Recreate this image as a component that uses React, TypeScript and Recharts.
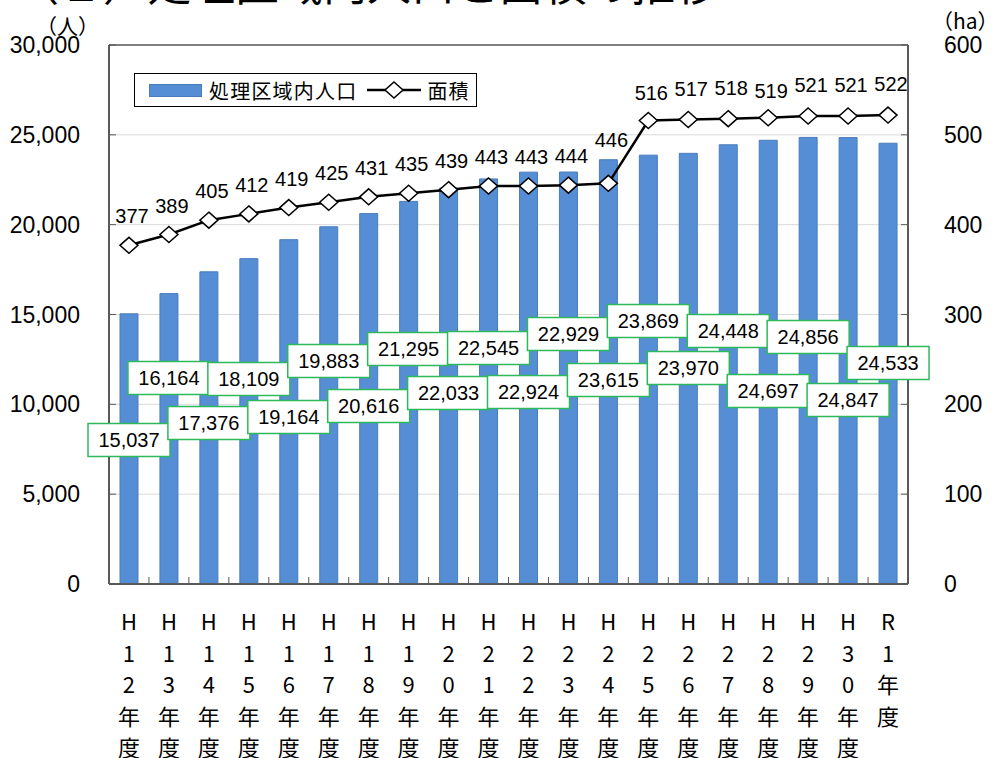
import React from 'react';
import {
  ComposedChart,
  Bar,
  Line,
  XAxis,
  YAxis,
  CartesianGrid,
  LabelList,
  Legend,
  ReferenceLine,
} from 'recharts';

// 年度
const years = ['H12', 'H13', 'H14', 'H15', 'H16', 'H17', 'H18', 'H19', 'H20', 'H21',
  'H22', 'H23', 'H24', 'H25', 'H26', 'H27', 'H28', 'H29', 'H30', 'R1'];

// 処理区域内人口 (人)
const population = [15037, 16164, 17376, 18109, 19164, 19883, 20616, 21295, 22033, 22545,
  22924, 22929, 23615, 23869, 23970, 24448, 24697, 24856, 24847, 24533];

// 面積 (ha)
const area = [377, 389, 405, 412, 419, 425, 431, 435, 439, 443,
  443, 444, 446, 516, 517, 518, 519, 521, 521, 522];

// where each population label box sits, on the left axis (人)
const popLabelAt = [8015, 11466, 8961, 11410, 9295, 12412, 9907, 13080, 10631, 13135,
  10686, 13915, 11354, 14638, 12022, 14082, 10742, 13748, 10241, 12301];

// extra lift (px) of some area labels, as placed in the original
const areaLabelLift = [0, 0, 0, 0, 0, 0, 0, 0, 0, 0,
  0, 0, 14, -2, 2, 2, -2, 2, 2, 2];

const leftTicks = [0, 5000, 10000, 15000, 20000, 25000, 30000];
const rightTicks = [0, 100, 200, 300, 400, 500, 600];

const data = years.map((year, i) => ({
  year,
  population: population[i],
  area: area[i],
}));

const latin = '"Liberation Sans", Arial, "Noto Sans CJK JP", sans-serif';
const jp = '"Noto Sans CJK JP", "Liberation Sans", sans-serif';
const axisGray = '#595959';

const fmt = (v: number) => v.toLocaleString('en-US');

const YearTick = (props: any) => {
  const { x, y, payload } = props;
  const half = payload.offset ?? 20;
  const chars = [...String(payload.value), '年', '度'];
  return (
    <g>
      <line x1={x + half} x2={x + half} y1={y} y2={y - 7} stroke={axisGray} strokeWidth={1} />
      <text textAnchor="middle" fontSize={22} fill="#000" fontFamily={jp}>
        {chars.map((c, i) => (
          <tspan key={i} x={x} y={y + 46 + i * 31.5}>{c}</tspan>
        ))}
      </text>
    </g>
  );
};

const PopLabel = (props: any) => {
  const vb = props.viewBox ?? props;
  const { x, y, width, height } = vb;
  const { index, value } = props;
  const bottom = y + height;
  const cy = bottom - (popLabelAt[index] / value) * height;
  const cx = x + width / 2;
  return (
    <g>
      <rect x={cx - 41} y={cy - 16.5} width={82} height={33} fill="#fff" stroke="#2eb85c" strokeWidth={1.5} />
      <text x={cx} y={cy} dy="0.36em" textAnchor="middle" fontSize={20} fill="#000" fontFamily={latin}>
        {fmt(value)}
      </text>
    </g>
  );
};

const AreaLabel = (props: any) => {
  const vb = props.viewBox ?? props;
  const { x, y } = vb;
  const lift = areaLabelLift[props.index] ?? 0;
  return (
    <text x={x + 3} y={y - 22 - lift} textAnchor="middle" fontSize={20} fill="#000" fontFamily={latin}>
      {props.value}
    </text>
  );
};

const Diamond = (props: any) => {
  const { cx, cy, index } = props;
  return (
    <polygon
      key={`d-${index}`}
      points={`${cx},${cy - 8} ${cx + 9},${cy} ${cx},${cy + 8} ${cx - 9},${cy}`}
      fill="#fff"
      stroke="#000"
      strokeWidth={1.5}
    />
  );
};

const LegendBox = () => (
  <div
    style={{
      width: 341,
      height: 32,
      border: '1px solid #000',
      background: '#fff',
      display: 'flex',
      alignItems: 'center',
      fontFamily: jp,
      fontSize: 20,
      color: '#000',
    }}
  >
    <div style={{ width: 53, height: 13, background: '#558ed5', border: '1px solid #4a7cba', marginLeft: 14, boxSizing: 'border-box' }} />
    <span style={{ marginLeft: 7, letterSpacing: 1.2 }}>処理区域内人口</span>
    <svg width={54} height={20} style={{ marginLeft: 10 }}>
      <line x1={0} x2={54} y1={10} y2={10} stroke="#000" strokeWidth={2.5} />
      <polygon points="27,2 36,10 27,18 18,10" fill="#fff" stroke="#000" strokeWidth={1.5} />
    </svg>
    <span style={{ marginLeft: 6, letterSpacing: 1.2 }}>面積</span>
  </div>
);

export default function App() {
  return (
    <div style={{ position: 'absolute', left: 0, top: 0, width: 997, height: 758, overflow: 'hidden', background: '#fff' }}>
      <div style={{ position: 'absolute', left: 15, top: -40, fontSize: 44, lineHeight: '44px', fontFamily: jp, whiteSpace: 'nowrap' }}>
        （２）処理区域内人口と面積の推移
      </div>
      <div style={{ position: 'absolute', left: 36, top: 13, fontSize: 21, lineHeight: '24px', fontFamily: jp }}>（人）</div>
      <div style={{ position: 'absolute', left: 932, top: 8, fontSize: 21, lineHeight: '24px', fontFamily: jp }}>（ha）</div>
      <ComposedChart width={997} height={758} data={data} margin={{ top: 45, right: 0, bottom: 0, left: 0 }}>
        <CartesianGrid yAxisId="left" vertical={false} stroke="#d9d9d9" strokeWidth={1} />
        <XAxis
          dataKey="year"
          height={174}
          interval={0}
          tickSize={0}
          tickMargin={0}
          tickLine={false}
          axisLine={{ stroke: axisGray, strokeWidth: 2 }}
          tick={<YearTick />}
        />
        <YAxis
          yAxisId="left"
          domain={[0, 30000]}
          ticks={leftTicks}
          width={109}
          tickSize={-7}
          tickMargin={36}
          interval={0}
          axisLine={{ stroke: axisGray, strokeWidth: 2 }}
          tickLine={{ stroke: axisGray }}
          tick={{ fontSize: 23, fill: '#000', fontFamily: latin }}
          tickFormatter={fmt}
        />
        <YAxis
          yAxisId="right"
          orientation="right"
          domain={[0, 600]}
          ticks={rightTicks}
          width={89}
          tickSize={-7}
          tickMargin={43}
          interval={0}
          axisLine={{ stroke: axisGray, strokeWidth: 2 }}
          tickLine={{ stroke: axisGray }}
          tick={{ fontSize: 23, fill: '#000', fontFamily: latin }}
        />
        <ReferenceLine yAxisId="left" y={30000} stroke="#7f7f7f" strokeWidth={2} />
        <Legend
          layout="vertical"
          verticalAlign="middle"
          align="center"
          content={<LegendBox />}
          wrapperStyle={{ left: 134, top: 73, width: 343, height: 34 }}
        />
        <Bar yAxisId="left" dataKey="population" barSize={18} fill="#558ed5" stroke="#4a7cba" strokeWidth={1} isAnimationActive={false}>
          <LabelList dataKey="population" content={<PopLabel />} />
        </Bar>
        <Line
          yAxisId="right"
          dataKey="area"
          stroke="#000"
          strokeWidth={2.5}
          dot={<Diamond />}
          activeDot={false}
          isAnimationActive={false}
        >
          <LabelList dataKey="area" content={<AreaLabel />} />
        </Line>
      </ComposedChart>
    </div>
  );
}
